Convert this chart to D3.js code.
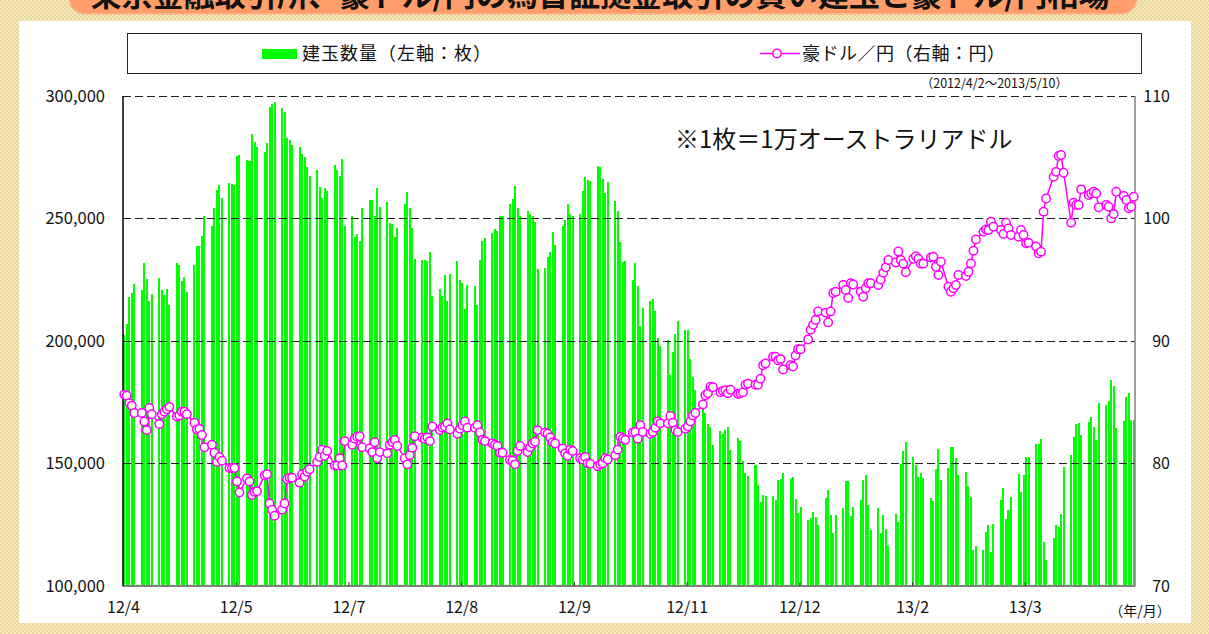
<!DOCTYPE html>
<html>
<head>
<meta charset="utf-8">
<script src="https://cdn.jsdelivr.net/npm/d3@7"></script>
<style>
  body { margin: 0; background: #ffffff; }
  svg { display: block; font-family: "Noto Sans CJK JP", "Noto Sans", sans-serif; }
</style>
</head>
<body>
<div id="chart"></div>
<script>
// TFX AUD/JPY: open interest (bars, left axis) and AUD/JPY rate (line, right axis)

var firstDay = "2012-04-02";
var lastDay = "2013-05-10";

var tickDates = ["2012-04-02", "2012-05-17", "2012-07-01", "2012-08-15", "2012-09-29",
                 "2012-11-13", "2012-12-28", "2013-02-11", "2013-03-28"];
var tickLabels = ["12/4", "12/5", "12/7", "12/8", "12/9", "12/11", "12/12", "13/2", "13/3"];

var leftTicks = [100000, 150000, 200000, 250000, 300000];
var rightTicks = [70, 80, 90, 100, 110];

// open interest, one row per week (Mon-Fri), contracts
var openInterest = [
    [202300, 206800, 217800, 219500, 223200],
    [220700, 231700, 225200, 216200, 219100],
    [225600, 220700, 218700, 221100, 214600],
    [231700, 230900, 224400, 226000, 219900],
    [230900, 238700, 238700, 242800, 251000],
    [246900, 254200, 261600, 263600, 258300],
    [264400, 264000, 263600, 275500, 275900],
    [273800, 273400, 284500, 281200, 279200],
    [277100, 280800, 295500, 296700, 297500],
    [295100, 293500, 282800, 282000, 280000],
    [279200, 276300, 275100, 271000, 267300],
    [269800, 262800, 258300, 262400, 261200],
    [271800, 269800, 267300, 274300, 246900],
    [251000, 242400, 243600, 240700, 254200],
    [257500, 257500, 251000, 262400, 254600],
    [256700, 248100, 247700, 242400, 246000],
    [255900, 260800, 254200, 246000, 233400],
    [233000, 233000, 232600, 236200, 218300],
    [221100, 218300, 226800, 216200, 227200],
    [232600, 224800, 223600, 212900, 222800],
    [222300, 214600, 233000, 240700, 242000],
    [244000, 245600, 244800, 251000, 251000],
    [255900, 257900, 263200, 254200, 251000],
    [253000, 251800, 251000, 248500, 229300],
    [229700, 234200, 236200, 244400, 239100],
    [246900, 249300, 255900, 251800, 251000],
    [251800, 261200, 266900, 265700, 265300],
    [271400, 271000, 266100, 260400, 264900],
    [257100, 253000, 240300, 232200, 232600],
    [224800, 231700, 222300, 206000, 213400],
    [216200, 217000, 212100, 201100, 197800],
    [200300, 186000, 195400, 202700, 208000],
    [204400, 204400, 192500, 185300, 179800],
    [172300, 170300, 165800, 164900, 157400],
    [163100, 161700, 163600, 164800, 155300],
    [160400, 159000, 150800, 146000, 144700],
    [149200, 141000, 134100, 136900, 136500],
    [136500, 134900, 143300, 143700, 145800],
    [143700, 144400, 135400, 129700, 132200],
    [126700, 127400, 130100, 128100, 124700],
    [135800, 139200, 128700, 121300, 128700],
    [131700, 142600, 142600, 128300, 132200],
    [135100, 143300, 145100, 132800, 122600],
    [131500, 121300, 128700, 122900, 116100],
    [129400, 126000, 149500, 155000, 158700],
    [152600, 149200, 144400, 145800, 144000],
    [135800, 134500, 147400, 155700, 143000],
    [148100, 156700, 156500, 152200, 145100],
    [146500, 140600, 136200, 114400, 116100],
    [114400, 121900, 124700, 113800, 125100],
    [134900, 140000, 127100, 130800, 136000],
    [145500, 138300, 145100, 152300, 152300],
    [158000, 158000, 159700, 117700, 110600],
    [119500, 124700, 124000, 129200, 148500],
    [153300, 160800, 165800, 166500, 161400],
    [166900, 168900, 164900, 159400, 174400],
    [173700, 175500, 183900, 181600, 164400],
    [167200, 177100, 178500, 167600, 167600]
];

// AUD/JPY, one row per week (Mon-Fri), yen
var audJpy = [
    [85.6, 85.5, 84.9, 84.7, 84.1],
    [84.1, 83.4, 82.7, 84.5, 84.0],
    [83.2, 84.0, 84.2, 84.4, 84.6],
    [83.8, 83.9, 84.2, 84.2, 84.0],
    [83.3, 82.75, 82.8, 82.3, 81.3],
    [81.5, 80.85, 80.1, 80.5, 80.2],
    [79.6, 79.6, 79.6, 78.5, 77.6],
    [78.75, 78.5, 77.4, 77.65, 77.7],
    [79.0, 79.1, 76.7, 76.2, 75.7],
    [76.2, 76.7, 78.7, 78.8, 78.8],
    [78.4, 79.1, 78.9, 79.3, 79.5],
    [80.1, 80.5, 81.1, 80.6, 81.0],
    [79.8, 79.8, 80.4, 79.8, 81.8],
    [81.5, 82.0, 82.15, 82.2, 81.3],
    [81.2, 80.9, 81.7, 80.4, 80.9],
    [80.8, 81.5, 81.7, 81.9, 81.4],
    [80.4, 79.9, 80.65, 81.25, 82.2],
    [82.1, 82.0, 82.1, 81.8, 83.0],
    [82.7, 82.9, 83.0, 83.25, 82.75],
    [82.4, 82.8, 83.1, 83.4, 82.9],
    [82.9, 83.1, 82.5, 81.9, 81.8],
    [81.6, 81.5, 81.4, 80.85, 80.85],
    [80.25, 80.2, 79.9, 81.0, 81.4],
    [80.9, 81.3, 81.6, 81.75, 82.7],
    [82.5, 82.4, 82.1, 81.7, 81.6],
    [81.2, 80.8, 80.6, 81.1, 81.0],
    [80.4, 80.3, 80.5, 80.0, 79.95],
    [79.75, 79.9, 80.0, 80.4, 80.3],
    [80.65, 81.1, 82.15, 82.0, 81.9],
    [82.5, 82.55, 82.0, 83.1, 82.55],
    [82.4, 82.55, 82.9, 83.4, 83.25],
    [83.25, 83.85, 83.3, 82.7, 82.55],
    [82.8, 83.0, 83.4, 83.9, 84.1],
    [84.8, 85.55, 85.7, 86.25, 86.2],
    [85.8, 85.9, 85.95, 85.7, 86.0],
    [85.65, 85.7, 85.8, 86.4, 86.5],
    [86.4, 86.4, 86.9, 88.0, 88.15],
    [88.7, 88.7, 88.4, 88.5, 87.65],
    [88.0, 87.9, 88.8, 89.3, 89.3],
    [90.1, 90.9, 91.3, 91.7, 92.4],
    [92.3, 91.5, 92.4, 93.9, 94.0],
    [94.55, 94.15, 93.5, 94.7, 94.6],
    [94.0, 93.6, 94.3, 94.7, 94.7],
    [94.55, 95.0, 95.55, 96.0, 96.6],
    [96.4, 97.3, 96.6, 96.3, 95.6],
    [96.7, 96.9, 96.7, 96.3, 96.3],
    [96.8, 96.87, 96.05, 95.37, 96.46],
    [94.41, 94.0, 94.28, 94.55, 95.37],
    [95.29, 95.64, 96.32, 97.36, 98.28],
    [98.9, 99.1, 99.05, 99.73, 99.32],
    [99.05, 98.72, 99.65, 99.18, 98.64],
    [98.5, 99.05, 98.64, 97.96, 98.0],
    [97.7, 97.14, 97.28, 100.55, 101.63],
    [103.4, 103.8, 105.1, 105.18, 103.73],
    [99.65, 101.28, 101.1, 101.1, 102.37],
    [101.9, 102.04, 102.18, 102.04, 100.9],
    [101.1, 100.95, 100.0, 100.35, 102.18],
    [101.83, 101.5, 100.82, 100.95, 101.77]
];

(function() {

    var width = 1209, height = 634;
    var parseDate = d3.timeParse("%Y-%m-%d");

    var start = parseDate(firstDay);
    var end = d3.timeDay.offset(parseDate(lastDay), 1);

    // trading days = weekdays of the period
    var days = d3.timeDay.range(start, end).filter(function(d) {
        return d.getDay() !== 0 && d.getDay() !== 6;
    });

    var oiFlat = openInterest.flat();
    var fxFlat = audJpy.flat();

    var data = days.map(function(d, i) {
        return { date: d, oi: oiFlat[i], fx: fxFlat[i] };
    });

    var plot = { left: 123, right: 1135, top: 96, bottom: 585.5 };

    var svg = d3.select("#chart").append("svg")
        .attr("width", width)
        .attr("height", height);

    // beige mesh frame
    var defs = svg.append("defs");
    var mesh = defs.append("pattern")
        .attr("id", "mesh")
        .attr("width", 4)
        .attr("height", 4)
        .attr("patternUnits", "userSpaceOnUse");
    mesh.append("rect").attr("width", 4).attr("height", 4).attr("fill", "#f6ebc2");
    mesh.append("rect").attr("width", 2).attr("height", 2).attr("fill", "#e9d598");
    mesh.append("rect").attr("x", 2).attr("y", 2).attr("width", 2).attr("height", 2).attr("fill", "#e9d598");

    svg.append("rect")
        .attr("width", width)
        .attr("height", height)
        .attr("fill", "url(#mesh)");

    // white panel
    svg.append("rect")
        .attr("x", 19)
        .attr("y", 21)
        .attr("width", 1172)
        .attr("height", 602)
        .attr("fill", "#ffffff");

    // orange title banner (cut off at the top, as in the source image)
    svg.append("rect")
        .attr("x", 69)
        .attr("y", -30)
        .attr("width", 1068)
        .attr("height", 44)
        .attr("rx", 16)
        .attr("fill", "#ff9e6a")
        .attr("stroke", "#ffb890")
        .attr("stroke-width", 1.5);

    svg.append("text")
        .attr("x", 600)
        .attr("y", 6)
        .attr("text-anchor", "middle")
        .attr("font-size", "30px")
        .attr("font-weight", "bold")
        .attr("fill", "#111111")
        .attr("textLength", 1019)
        .attr("lengthAdjust", "spacingAndGlyphs")
        .text("東京金融取引所、豪ドル/円の為替証拠金取引の買い建玉と豪ドル/円相場");

    // scales
    var x = d3.scaleTime()
        .domain([start, end])
        .range([plot.left, plot.right]);

    var dayW = x(d3.timeDay.offset(start, 1)) - x(start);

    var yLeft = d3.scaleLinear()
        .domain([leftTicks[0], leftTicks[leftTicks.length - 1]])
        .range([plot.bottom, plot.top]);

    var yRight = d3.scaleLinear()
        .domain([rightTicks[0], rightTicks[rightTicks.length - 1]])
        .range([plot.bottom, plot.top]);

    // bars
    svg.append("g")
        .selectAll("rect")
        .data(data)
        .enter()
        .append("rect")
        .attr("x", function(d) { return x(d.date) + dayW * 0.1; })
        .attr("width", dayW * 0.8)
        .attr("y", function(d) { return yLeft(d.oi); })
        .attr("height", function(d) { return plot.bottom - yLeft(d.oi); })
        .attr("fill", "#00ff00")
        .attr("shape-rendering", "crispEdges");

    // dashed gridlines
    svg.append("g")
        .selectAll("line")
        .data(leftTicks.slice(1))
        .enter()
        .append("line")
        .attr("x1", plot.left)
        .attr("x2", plot.right)
        .attr("y1", function(d) { return Math.round(yLeft(d)) + 0.5; })
        .attr("y2", function(d) { return Math.round(yLeft(d)) + 0.5; })
        .attr("stroke", "#222222")
        .attr("stroke-width", 1)
        .attr("stroke-dasharray", "8,4");

    // axis frame lines
    svg.append("line")
        .attr("x1", plot.left).attr("x2", plot.left)
        .attr("y1", plot.top).attr("y2", plot.bottom + 1)
        .attr("stroke", "#000000").attr("stroke-width", 1.5);

    svg.append("line")
        .attr("x1", plot.right).attr("x2", plot.right)
        .attr("y1", plot.top).attr("y2", plot.bottom + 1)
        .attr("stroke", "#808080").attr("stroke-width", 1.5);

    svg.append("line")
        .attr("x1", plot.left).attr("x2", plot.right)
        .attr("y1", plot.bottom + 0.5).attr("y2", plot.bottom + 0.5)
        .attr("stroke", "#808080").attr("stroke-width", 2);

    // x axis
    var tickValues = tickDates.map(parseDate);

    var xAxis = d3.axisBottom(x)
        .tickValues(tickValues)
        .tickSize(-4)
        .tickPadding(16)
        .tickFormat(function(d, i) { return tickLabels[i]; });

    var gx = svg.append("g")
        .attr("transform", "translate(0," + (plot.bottom + 0.5) + ")")
        .call(xAxis);
    gx.select(".domain").remove();
    gx.selectAll(".tick line").attr("stroke", "#333333");
    gx.selectAll("text")
        .attr("font-family", "\"Noto Sans CJK JP\", sans-serif")
        .attr("font-size", "16px")
        .attr("fill", "#111111");

    svg.append("text")
        .attr("x", 1140)
        .attr("y", 616)
        .attr("text-anchor", "middle")
        .attr("font-size", "14px")
        .attr("fill", "#111111")
        .text("（年/月）");

    // left axis labels
    svg.append("g")
        .selectAll("text")
        .data(leftTicks)
        .enter()
        .append("text")
        .attr("x", 105)
        .attr("y", function(d) { return yLeft(d) + 6; })
        .attr("text-anchor", "end")
        .attr("font-size", "16.5px")
        .attr("fill", "#111111")
        .text(function(d) { return d3.format(",")(d); });

    // right axis labels
    svg.append("g")
        .selectAll("text")
        .data(rightTicks)
        .enter()
        .append("text")
        .attr("x", 1170)
        .attr("y", function(d) { return yRight(d) + 6; })
        .attr("text-anchor", "end")
        .attr("font-size", "16px")
        .attr("fill", "#111111")
        .text(function(d) { return d; });

    // AUD/JPY line with open markers
    var line = d3.line()
        .x(function(d) { return x(d.date) + dayW / 2; })
        .y(function(d) { return yRight(d.fx); });

    svg.append("path")
        .datum(data)
        .attr("d", line)
        .attr("fill", "none")
        .attr("stroke", "#ff00ff")
        .attr("stroke-width", 1.5);

    svg.append("g")
        .selectAll("circle")
        .data(data)
        .enter()
        .append("circle")
        .attr("cx", function(d) { return x(d.date) + dayW / 2; })
        .attr("cy", function(d) { return yRight(d.fx); })
        .attr("r", 4.2)
        .attr("fill", "#ffffff")
        .attr("stroke", "#ff00ff")
        .attr("stroke-width", 1.5);

    // legend box
    svg.append("rect")
        .attr("x", 127.5)
        .attr("y", 33.5)
        .attr("width", 1014)
        .attr("height", 40)
        .attr("fill", "#ffffff")
        .attr("stroke", "#222222")
        .attr("stroke-width", 1);

    svg.append("rect")
        .attr("x", 262)
        .attr("y", 49)
        .attr("width", 35)
        .attr("height", 10)
        .attr("fill", "#00ff00");

    svg.append("text")
        .attr("x", 302)
        .attr("y", 60)
        .attr("font-size", "18px")
        .attr("letter-spacing", "1px")
        .attr("fill", "#111111")
        .text("建玉数量（左軸：枚）");

    svg.append("line")
        .attr("x1", 760)
        .attr("x2", 800)
        .attr("y1", 53.5)
        .attr("y2", 53.5)
        .attr("stroke", "#ff00ff")
        .attr("stroke-width", 1.5);

    svg.append("circle")
        .attr("cx", 777)
        .attr("cy", 53.5)
        .attr("r", 4.2)
        .attr("fill", "#ffffff")
        .attr("stroke", "#ff00ff")
        .attr("stroke-width", 1.5);

    svg.append("text")
        .attr("x", 802)
        .attr("y", 60)
        .attr("font-size", "18px")
        .attr("letter-spacing", "0.5px")
        .attr("fill", "#111111")
        .text("豪ドル／円（右軸：円）");

    // period note
    svg.append("text")
        .attr("x", 1068)
        .attr("y", 88)
        .attr("text-anchor", "end")
        .attr("font-size", "12.5px")
        .attr("fill", "#111111")
        .text("（2012/4/2〜2013/5/10）");

    // unit note
    svg.append("text")
        .attr("x", 675)
        .attr("y", 148)
        .attr("font-size", "24px")
        .attr("fill", "#111111")
        .text("※1枚＝1万オーストラリアドル");

})();
</script>
</body>
</html>
